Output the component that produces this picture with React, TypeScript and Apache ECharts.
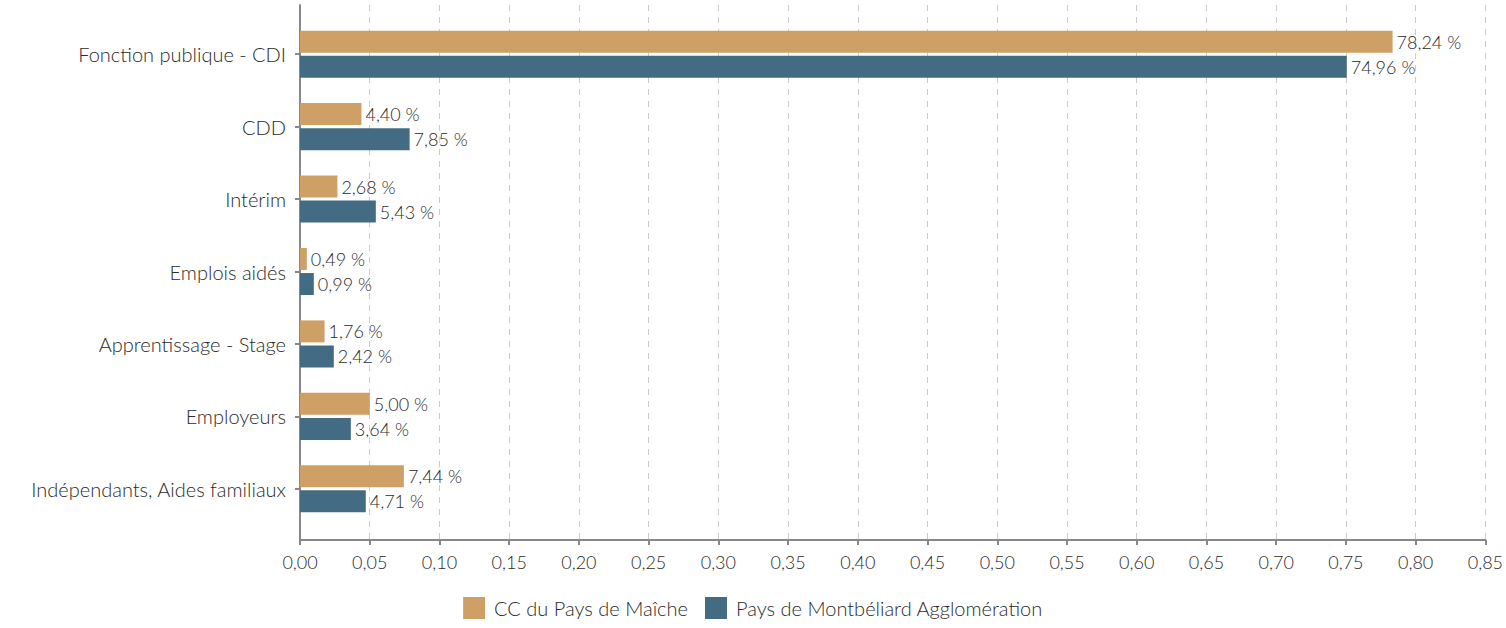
import React, { useEffect, useRef } from "react";
import * as echarts from "echarts";

const categories = [
  "Fonction publique - CDI",
  "CDD",
  "Intérim",
  "Emplois aidés",
  "Apprentissage - Stage",
  "Employeurs",
  "Indépendants, Aides familiaux",
];
const seriesNames = ["CC du Pays de Maîche", "Pays de Montbéliard Agglomération"];
const maicheValues = [0.7824, 0.044, 0.0268, 0.0049, 0.0176, 0.05, 0.0744];
const montbeliardValues = [0.7496, 0.0785, 0.0543, 0.0099, 0.0242, 0.0364, 0.0471];
const colors = ["#CFA065", "#446B84"];
const xMin = 0;
const xMax = 0.85;
const xInterval = 0.05;

const FONT = "Lato, sans-serif";
const WEIGHT = 300;
const TEXT = "#2a2a2a";
const AXIS = "#888";

export default function App() {
  const ref = useRef<HTMLDivElement>(null);
  useEffect(() => {
    if (!ref.current) return;
    const chart = echarts.init(ref.current, undefined, { renderer: "svg" });
    const fmtPct = (p: any) => (p.value * 100).toFixed(2).replace(".", ",") + " %";
    chart.setOption({
      animation: false,
      textStyle: { fontFamily: FONT },
      legend: {
        data: seriesNames,
        left: "center",
        top: 592,
        itemWidth: 22,
        itemHeight: 22,
        itemGap: 17,
        icon: "rect",
        textStyle: { fontFamily: FONT, fontWeight: WEIGHT, fontSize: 20, color: TEXT, padding: [0, 0, 0, 4] },
      },
      grid: [
        { left: 300, right: 19, top: 5, bottom: 88 },
        { left: 300, right: 19, top: 18, bottom: 103 },
      ],
      xAxis: [
        {
          gridIndex: 0,
          type: "value",
          min: xMin,
          max: xMax,
          interval: xInterval,
          axisLine: { show: true, lineStyle: { color: AXIS, width: 2 } },
          axisTick: { show: true, length: 5, lineStyle: { color: AXIS, width: 2 } },
          axisLabel: {
            fontFamily: FONT,
            fontWeight: WEIGHT,
            fontSize: 18,
            color: TEXT,
            margin: 13,
            formatter: (v: number) => v.toFixed(2).replace(".", ","),
          },
          splitLine: { show: true, lineStyle: { color: "#ccc", type: [6, 6], width: 1 } },
        },
        {
          gridIndex: 1,
          type: "value",
          min: xMin,
          max: xMax,
          show: false,
        },
      ],
      yAxis: [
        {
          gridIndex: 0,
          type: "value",
          min: 0,
          max: 1,
          axisLine: { show: true, lineStyle: { color: AXIS, width: 2 } },
          axisTick: { show: false },
          axisLabel: { show: false },
          splitLine: { show: false },
        },
        {
          gridIndex: 1,
          type: "category",
          inverse: true,
          data: categories,
          axisLine: { show: false },
          axisTick: { show: true, alignWithLabel: true, length: 5, lineStyle: { color: AXIS, width: 2 } },
          axisLabel: { fontFamily: FONT, fontWeight: WEIGHT, fontSize: 20, color: TEXT, margin: 14 },
          splitLine: { show: false },
        },
      ],
      series: [
        {
          name: seriesNames[0],
          type: "bar",
          xAxisIndex: 1,
          yAxisIndex: 1,
          data: maicheValues,
          barWidth: 22,
          barGap: "14%",
          itemStyle: { color: colors[0] },
          label: { show: true, position: "right", distance: 4, fontFamily: FONT, fontWeight: WEIGHT, fontSize: 18, color: TEXT, formatter: fmtPct },
        },
        {
          name: seriesNames[1],
          type: "bar",
          xAxisIndex: 1,
          yAxisIndex: 1,
          data: montbeliardValues,
          barWidth: 22,
          barGap: "14%",
          itemStyle: { color: colors[1] },
          label: { show: true, position: "right", distance: 4, fontFamily: FONT, fontWeight: WEIGHT, fontSize: 18, color: TEXT, formatter: fmtPct },
        },
      ],
    });
    return () => chart.dispose();
  }, []);
  return (
    <div
      ref={ref}
      style={{ position: "absolute", left: 0, top: 0, width: 1506, height: 628 }}
    />
  );
}
